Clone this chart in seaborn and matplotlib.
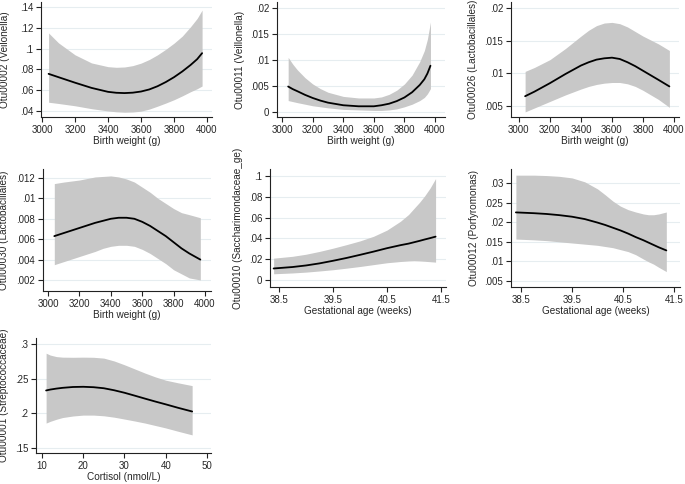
import numpy as np
import pandas as pd
import matplotlib
matplotlib.use("Agg")
import matplotlib.pyplot as plt
import seaborn as sns

# ---- data (fitted mean + 95% CI band) ----
bw1 = [3040, 3100, 3200, 3300, 3400, 3450, 3500, 3550, 3600, 3650, 3700, 3750, 3800, 3850, 3900, 3940, 3970]
otu02_mean = [.0757, .0725, .0672, .0622, .0584, .0575, .0572, .0576, .0587, .0607, .0638, .0678, .0725, .0780, .0842, .0898, .0956]
otu02_hi = [.1150, .1055, .0940, .0862, .0826, .0820, .0823, .0836, .0860, .0895, .0940, .0993, .1052, .1120, .1210, .1290, .1370]
otu02_lo = [.0484, .0472, .0450, .0422, .0400, .0392, .0388, .0390, .0398, .0418, .0446, .0476, .0508, .0545, .0585, .0614, .0640]

bw2 = [3040, 3070, 3100, 3150, 3200, 3250, 3300, 3400, 3500, 3600, 3650, 3700, 3750, 3800, 3850, 3900, 3930, 3950, 3970]
otu11_mean = [.0049, .0044, .0040, .0033, .0027, .0022, .0018, .0013, .0011, .0011, .0013, .0016, .0021, .0028, .0038, .0052, .0063, .0074, .0089]
otu11_hi = [.0105, .0092, .0081, .0066, .0054, .0045, .0038, .0030, .0027, .0027, .0029, .0034, .0042, .0054, .0071, .0097, .0118, .0140, .0173]
otu11_lo = [.0022, .0020, .0018, .0015, .0012, .0010, .0008, .0005, .0004, .0003, .0003, .0004, .0006, .0010, .0015, .0022, .0028, .0035, .0045]

bw3 = [3040, 3100, 3200, 3300, 3400, 3450, 3500, 3550, 3600, 3650, 3700, 3750, 3800, 3900, 3970]
otu26_mean = [.0065, .0072, .0085, .0099, .0112, .0117, .0121, .0123, .0124, .0122, .0117, .0111, .0104, .0090, .0080]
otu26_hi = [.0103, .0109, .0121, .0138, .0157, .0166, .0173, .0177, .0178, .0176, .0171, .0164, .0157, .0145, .0135]
otu26_lo = [.0041, .0047, .0057, .0067, .0076, .0080, .0083, .0085, .0086, .0086, .0084, .0080, .0074, .0060, .0048]

bw4 = [3040, 3100, 3200, 3300, 3350, 3400, 3450, 3500, 3550, 3600, 3650, 3700, 3750, 3800, 3850, 3900, 3970]
otu30_mean = [.0063, .0066, .0071, .0076, .0078, .0080, .0081, .0081, .0080, .0077, .0073, .0068, .0063, .0057, .0051, .0046, .0040]
otu30_hi = [.01145, .0116, .0118, .0121, .01215, .0122, .0121, .0119, .0116, .0111, .0106, .0100, .0095, .0090, .0086, .0084, .0081]
otu30_lo = [.0035, .0038, .0043, .0048, .0051, .0053, .0054, .0054, .0053, .0050, .0046, .0041, .0036, .0030, .0026, .0022, .0020]

ga5 = [38.4, 38.75, 39.0, 39.25, 39.5, 39.75, 40.0, 40.25, 40.5, 40.75, 40.9, 41.0, 41.1, 41.2, 41.3, 41.4]
otu10_mean = [.0111, .0125, .0140, .0160, .0185, .0212, .0242, .0273, .0306, .0335, .0350, .0363, .0376, .0390, .0403, .0417]
otu10_hi = [.0210, .0228, .0248, .0275, .0306, .0340, .0376, .0420, .0480, .0565, .0630, .0688, .0745, .0810, .0885, .0975]
otu10_lo = [.0060, .0068, .0076, .0087, .0099, .0114, .0130, .0148, .0166, .0178, .0183, .0185, .0183, .0180, .0176, .0172]

ga6 = [38.4, 38.75, 39.0, 39.25, 39.5, 39.75, 40.0, 40.15, 40.3, 40.45, 40.6, 40.75, 40.9, 41.0, 41.1, 41.2, 41.35]
otu12_mean = [.0225, .0223, .0221, .0218, .0214, .0208, .0199, .0193, .0186, .0179, .0171, .0162, .0154, .0148, .0142, .0136, .0128]
otu12_hi = [.0320, .0320, .0319, .0317, .0313, .0303, .0285, .0270, .0254, .0241, .0232, .0226, .0221, .0219, .0219, .0221, .0226]
otu12_lo = [.0157, .0155, .0153, .0150, .0147, .0144, .0141, .0138, .0135, .0130, .0125, .0117, .0106, .0099, .0093, .0085, .0074]

cort7 = [11, 12, 13.5, 15, 17.5, 20, 22.5, 25, 27.5, 30, 32.5, 35, 37.5, 40, 43, 46.4]
otu01_mean = [.2330, .2343, .2357, .2368, .2380, .2383, .2377, .2362, .2333, .2297, .2255, .2212, .2170, .2130, .2080, .2027]
otu01_hi = [.2867, .2840, .2818, .2810, .2808, .2810, .2808, .2796, .2755, .2700, .2640, .2580, .2525, .2478, .2440, .2400]
otu01_lo = [.1860, .1885, .1915, .1940, .1962, .1975, .1975, .1965, .1945, .1918, .1890, .1860, .1825, .1790, .1742, .1690]

bw_ticks = [3000, 3200, 3400, 3600, 3800, 4000]
ga_ticks = [38.5, 39.5, 40.5, 41.5]
cort_ticks = [10, 20, 30, 40, 50]

panels = [
    dict(x=bw1, m=otu02_mean, hi=otu02_hi, lo=otu02_lo, xt=bw_ticks,
         yt=[.04, .06, .08, .1, .12, .14], ytl=[".04", ".06", ".08", ".1", ".12", ".14"],
         xlabel="Birth weight (g)", ylabel="Otu00002 (Veilonella)"),
    dict(x=bw2, m=otu11_mean, hi=otu11_hi, lo=otu11_lo, xt=bw_ticks,
         yt=[0, .005, .01, .015, .02], ytl=["0", ".005", ".01", ".015", ".02"],
         xlabel="Birth weight (g)", ylabel="Otu00011 (Veillonella)"),
    dict(x=bw3, m=otu26_mean, hi=otu26_hi, lo=otu26_lo, xt=bw_ticks,
         yt=[.005, .01, .015, .02], ytl=[".005", ".01", ".015", ".02"],
         xlabel="Birth weight (g)", ylabel="Otu00026 (Lactobacillales)"),
    dict(x=bw4, m=otu30_mean, hi=otu30_hi, lo=otu30_lo, xt=bw_ticks,
         yt=[.002, .004, .006, .008, .01, .012], ytl=[".002", ".004", ".006", ".008", ".01", ".012"],
         xlabel="Birth weight (g)", ylabel="Otu00030 (Lactobacillales)"),
    dict(x=ga5, m=otu10_mean, hi=otu10_hi, lo=otu10_lo, xt=ga_ticks,
         yt=[0, .02, .04, .06, .08, .1], ytl=["0", ".02", ".04", ".06", ".08", ".1"],
         xlabel="Gestational age (weeks)", ylabel="Otu00010 (Saccharimondaceae_ge)"),
    dict(x=ga6, m=otu12_mean, hi=otu12_hi, lo=otu12_lo, xt=ga_ticks,
         yt=[.005, .01, .015, .02, .025, .03], ytl=[".005", ".01", ".015", ".02", ".025", ".03"],
         xlabel="Gestational age (weeks)", ylabel="Otu00012 (Porfyromonas)"),
    dict(x=cort7, m=otu01_mean, hi=otu01_hi, lo=otu01_lo, xt=cort_ticks,
         yt=[.15, .2, .25, .3], ytl=[".15", ".2", ".25", ".3"],
         xlabel="Cortisol (nmol/L)", ylabel="Otu00001 (Streptococcaceae)"),
]

# pixel boxes (left, right, top, bottom), axis limits, ylabel offset (px)
layout = [
    ((41, 212, 2, 117), (2994, 4030), (.0342, .1448), 31),
    ((277, 445, 2, 117), (2967, 4065), (-.00096, .02115), 32),
    ((511, 679, 2, 117), (2949, 4032), (.00332, .02092), 33),
    ((43, 211, 169, 291), (2968, 4038), (.00092, .01288), 34),
    ((270, 446, 169, 287), (38.333, 41.593), (-.0067, .1067), 27),
    ((511, 680, 169, 287), (38.304, 41.618), (.00347, .03357), 32),
    ((36, 211, 338, 453), (8.55, 50.97), (.1429, .3086), 27),
]

sns.set_style("ticks")
plt.rcParams['font.family'] = ['Liberation Sans', 'DejaVu Sans']

W, H = 685, 484
fig = plt.figure(figsize=(W / 100, H / 100), dpi=100)

for p, (box, xl, yl, off) in zip(panels, layout):
    x0, x1, y0, y1 = box
    ax = fig.add_axes([x0 / W, 1 - y1 / H, (x1 - x0) / W, (y1 - y0) / H])
    ax.fill_between(p["x"], p["lo"], p["hi"], color="#c8c8c8", lw=0, zorder=2)
    sns.lineplot(x=p["x"], y=p["m"], ax=ax, color="black", lw=1.3, zorder=3)
    ax.set_xlim(*xl)
    ax.set_ylim(*yl)
    ax.set_xticks(p["xt"])
    ax.set_xticklabels([str(t) for t in p["xt"]])
    ax.set_yticks(p["yt"])
    ax.set_yticklabels(p["ytl"])
    for t in p["yt"]:
        ax.axhline(t, color="#e6edf0", lw=0.8, zorder=1)
    for s in ["top", "right"]:
        ax.spines[s].set_visible(False)
    for s in ["left", "bottom"]:
        ax.spines[s].set_linewidth(0.8)
        ax.spines[s].set_color("#222222")
    ax.tick_params(axis="both", length=3.5, width=0.8, color="#222222",
                   labelsize=7, pad=2, direction="out")
    ax.set_xlabel(p["xlabel"], fontsize=7.2, labelpad=1)
    ax.set_ylabel(p["ylabel"], fontsize=7.2)
    ax.yaxis.set_label_coords(-off / (x1 - x0), 0.5)
    ax.patch.set_alpha(0)

fig.savefig("out.png", dpi=100, facecolor="white")
